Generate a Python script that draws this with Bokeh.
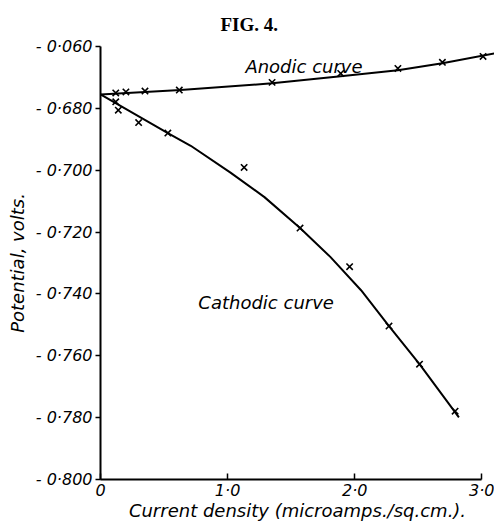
from bokeh.plotting import figure
from bokeh.models import Range1d, FixedTicker, Label
from bokeh.embed import file_html
from bokeh.resources import INLINE

# Anodic measured points (current density, potential)
anodic_x = [0.12, 0.20, 0.35, 0.62, 1.35, 1.89, 2.34, 2.69, 3.01]
anodic_y = [-0.6750, -0.6747, -0.6744, -0.6741, -0.6716, -0.6687, -0.6671, -0.6651, -0.6632]
# Anodic curve as drawn
anodic_curve_x = [0.0, 0.63, 1.35, 1.89, 2.34, 2.69, 3.10]
anodic_curve_y = [-0.6755, -0.6741, -0.6719, -0.6696, -0.6677, -0.6654, -0.6622]

# Cathodic measured points
cathodic_x = [0.12, 0.14, 0.30, 0.53, 1.13, 1.57, 1.96, 2.27, 2.51, 2.79]
cathodic_y = [-0.6779, -0.6806, -0.6846, -0.6880, -0.6991, -0.7187, -0.7312, -0.7504, -0.7627, -0.7779]
# Cathodic curve as drawn
cathodic_curve_x = [0.0, 0.53, 0.71, 1.02, 1.29, 1.57, 1.81, 2.05, 2.27, 2.51, 2.82]
cathodic_curve_y = [-0.6755, -0.6880, -0.6921, -0.7007, -0.7087, -0.7187, -0.7281, -0.7388, -0.7504, -0.7627, -0.7799]

x_ticks = [0, 1, 2, 3]
x_tick_labels = ["0", "1·0", "2·0", "3·0"]
y_ticks = [-0.66, -0.68, -0.70, -0.72, -0.74, -0.76, -0.78, -0.80]
y_tick_labels = ["- 0·060", "- 0·680", "- 0·700", "- 0·720", "- 0·740", "- 0·760", "- 0·780", "- 0·800"]

FONT = "DejaVu Sans"

p = figure(width=494, height=523, output_backend="svg", toolbar_location=None,
           x_range=Range1d(0, 3.1), y_range=Range1d(-0.800, -0.660),
           min_border_left=100, min_border_right=0, min_border_top=45, min_border_bottom=42,
           title="FIG. 4.")
p.outline_line_color = None
p.xgrid.visible = False
p.ygrid.visible = False
p.background_fill_color = "white"
p.border_fill_color = "white"

p.title.text_font = "Liberation Serif"
p.title.text_font_style = "bold"
p.title.text_font_size = "19px"
p.title.text_color = "black"
p.title.align = "left"
p.title.offset = 120
p.title.standoff = 23

# axes
xa = p.xaxis[0]
xa.ticker = FixedTicker(ticks=x_ticks)
xa.major_label_overrides = {t: l for t, l in zip(x_ticks, x_tick_labels)}
xa.bounds = (0, 3.0)
xa.axis_line_width = 2
xa.axis_line_color = "black"
xa.major_tick_in = 6
xa.major_tick_out = 0
xa.major_tick_line_width = 1.5
xa.minor_tick_line_color = None
xa.major_label_text_font = FONT
xa.major_label_text_font_style = "italic"
xa.major_label_text_font_size = "16px"
xa.major_label_text_color = "black"
xa.major_label_standoff = 1
xa.axis_label = "Current density (microamps./sq.cm.)."
xa.axis_label_text_font = FONT
xa.axis_label_text_font_style = "italic"
xa.axis_label_text_font_size = "18px"
xa.axis_label_text_color = "black"
xa.axis_label_standoff = -3

ya = p.yaxis[0]
ya.ticker = FixedTicker(ticks=y_ticks)
ya.major_label_overrides = {t: l for t, l in zip(y_ticks, y_tick_labels)}
ya.axis_line_width = 2
ya.axis_line_color = "black"
ya.major_tick_in = 0
ya.major_tick_out = 5
ya.major_tick_line_width = 1.5
ya.minor_tick_line_color = None
ya.major_label_text_font = FONT
ya.major_label_text_font_style = "italic"
ya.major_label_text_font_size = "16px"
ya.major_label_text_color = "black"
ya.major_label_standoff = 3
ya.axis_label = "Potential, volts."
ya.axis_label_text_font = FONT
ya.axis_label_text_font_style = "italic"
ya.axis_label_text_font_size = "18px"
ya.axis_label_text_color = "black"
ya.axis_label_standoff = 5

# curves
p.line(anodic_curve_x, anodic_curve_y, line_color="black", line_width=2)
p.line(cathodic_curve_x, cathodic_curve_y, line_color="black", line_width=2)
p.scatter(anodic_x, anodic_y, marker="x", size=9, line_color="black", line_width=1.6)
p.scatter(cathodic_x, cathodic_y, marker="x", size=9, line_color="black", line_width=1.6)

# curve names
p.add_layout(Label(x=1.14, y=-0.6664, text="Anodic curve", text_font=FONT,
                   text_font_style="italic", text_font_size="18px", text_color="black",
                   text_baseline="alphabetic"))
p.add_layout(Label(x=0.77, y=-0.7428, text="Cathodic curve", text_font=FONT,
                   text_font_style="italic", text_font_size="18px", text_color="black",
                   text_baseline="alphabetic"))

open("out.html", "w").write(file_html(p, INLINE))
